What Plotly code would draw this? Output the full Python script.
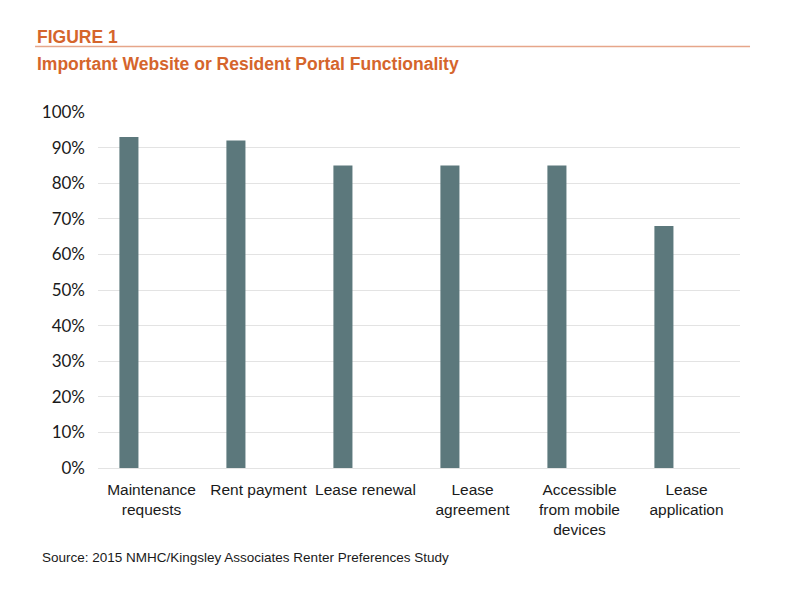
import plotly.graph_objects as go

# data
categories = ["Maintenance<br>requests", "Rent payment", "Lease renewal",
              "Lease<br>agreement", "Accessible<br>from mobile<br>devices",
              "Lease<br>application"]
share = [0.93, 0.92, 0.85, 0.85, 0.85, 0.68]
tick_vals = [i / 10 for i in range(11)]
tick_text = [f"{i*10}%" for i in range(11)]

orange = "#D5652C"
bar_col = "#5C787C"
narrow = "Liberation Sans Narrow, Arial Narrow, sans-serif"

fig = go.Figure(go.Bar(
    x=categories, y=share,
    marker=dict(color=bar_col, line=dict(width=0)),
    width=0.178, offset=-0.30,
    hoverinfo="x+y",
))

fig.update_layout(
    width=784, height=584,
    margin=dict(l=90, r=52, t=104, b=124),
    paper_bgcolor="white", plot_bgcolor="white",
    showlegend=False,
    font=dict(family=narrow, color="#1a1a1a"),
    xaxis=dict(
        type="category", range=[-0.5, 5.5],
        tickfont=dict(size=15.5, family=narrow, color="#1a1a1a"),
        showgrid=False, ticks="", showline=False,
        ticklabelstandoff=10,
    ),
    yaxis=dict(
        range=[0, 1.0], tickvals=tick_vals, ticktext=tick_text,
        tickfont=dict(size=17, family="Lato, sans-serif", color="#1a1a1a"),
        showgrid=True, gridcolor="#e3e3e3", gridwidth=1,
        zeroline=True, zerolinecolor="#e3e3e3", zerolinewidth=1,
        ticks="", ticklabelstandoff=12, showline=False,
    ),
    shapes=[dict(type="line", xref="paper", yref="paper",
                 x0=-0.098, x1=1.0156, y0=1.184, y1=1.184,
                 line=dict(color="#E6A68A", width=1.5))],
    annotations=[
        dict(text="<b>FIGURE 1</b>", xref="paper", yref="paper",
             x=-0.098, y=1.2096, xanchor="left", yanchor="middle",
             showarrow=False, font=dict(size=17.5, color=orange, family=narrow)),
        dict(text="<b>Important Website or Resident Portal Functionality</b>",
             xref="paper", yref="paper", x=-0.098, y=1.1336,
             xanchor="left", yanchor="middle", showarrow=False,
             font=dict(size=17.5, color=orange, family=narrow)),
        dict(text="Source: 2015 NMHC/Kingsley Associates Renter Preferences Study",
             xref="paper", yref="paper", x=-0.0903, y=-0.2504,
             xanchor="left", yanchor="middle", showarrow=False,
             font=dict(size=13.5, color="#1a1a1a", family=narrow)),
    ],
)

fig.write_html("out.html")
